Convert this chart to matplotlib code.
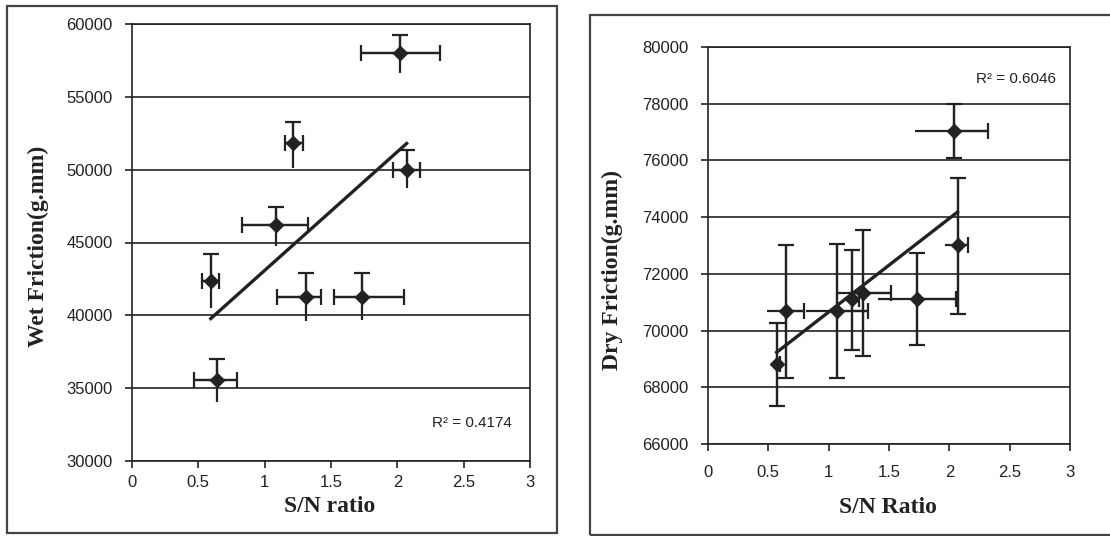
import numpy as np
import matplotlib
matplotlib.use("Agg")
import matplotlib.pyplot as plt
from matplotlib.patches import Rectangle

# wet friction vs S/N ratio
sn_wet = [0.594, 0.64, 1.085, 1.21, 1.31, 1.733, 2.02, 2.07]
wet = [42350, 35560, 46170, 51800, 41250, 41250, 58000, 49970]
wet_xlo = [0.064, 0.17, 0.255, 0.06, 0.22, 0.21, 0.295, 0.10]
wet_xhi = [0.061, 0.15, 0.245, 0.08, 0.115, 0.315, 0.30, 0.10]
wet_ylo = [1830, 1530, 1400, 1670, 1640, 1550, 1350, 1240]
wet_yhi = [1880, 1450, 1240, 1450, 1640, 1640, 1270, 1380]
wet_r2 = "R\u00b2 = 0.4174"

# dry friction vs S/N ratio
sn_dry = [0.569, 0.646, 1.071, 1.19, 1.287, 1.734, 2.035, 2.068]
dry = [68830, 70700, 70700, 71100, 71330, 71100, 77040, 73020]
dry_xlo = [0.03, 0.16, 0.257, 0.064, 0.207, 0.324, 0.32, 0.10]
dry_xhi = [0.03, 0.152, 0.257, 0.064, 0.227, 0.321, 0.285, 0.09]
dry_ylo = [1480, 2370, 2370, 1780, 2240, 1600, 965, 2450]
dry_yhi = [1450, 2300, 2360, 1730, 2200, 1620, 940, 2360]
dry_r2 = "R\u00b2 = 0.6046"

xticks = [0, 0.5, 1, 1.5, 2, 2.5, 3]
xticklabels = ["0", "0.5", "1", "1.5", "2", "2.5", "3"]

INK = "#222222"
plt.rcParams['font.family'] = ['Liberation Sans', 'DejaVu Sans']


def panel(ax, x, y, xlo, xhi, ylo, yhi, yticks, xcaps_both, ycaps_both):
    x = np.array(x); y = np.array(y)
    z = np.zeros(len(x))
    # bare error lines
    ax.errorbar(x, y, xerr=[xlo, xhi], yerr=[ylo, yhi], fmt='none',
                ecolor=INK, elinewidth=1.6, capsize=0, zorder=3)
    # caps, Excel style (some directions only)
    ax.errorbar(x, y, xerr=[xlo if xcaps_both else z, xhi], fmt='none',
                ecolor=INK, elinewidth=1.6, capsize=5.5, capthick=1.6, zorder=3)
    ax.errorbar(x, y, yerr=[ylo if ycaps_both else z, yhi], fmt='none',
                ecolor=INK, elinewidth=1.6, capsize=5.5, capthick=1.6, zorder=3)
    ax.plot(x, y, 'D', color=INK, markersize=7, zorder=4)
    # linear trendline
    k, b = np.polyfit(x, y, 1)
    xx = np.array([x.min(), x.max()])
    ax.plot(xx, k * xx + b, '-', color=INK, lw=2.4, zorder=3)

    ax.set_xlim(0, 3)
    ax.set_ylim(yticks[0], yticks[-1])
    ax.set_xticks(xticks)
    ax.set_xticklabels(xticklabels)
    ax.set_yticks(yticks)
    ax.grid(True, axis='y', color=INK, lw=1.2)
    ax.set_axisbelow(True)
    for s in ax.spines.values():
        s.set_color(INK)
        s.set_linewidth(1.2)
    ax.tick_params(direction='out', length=5, width=1.2, color=INK,
                   labelsize=12, labelcolor=INK)


fig = plt.figure(figsize=(11.1, 5.36), dpi=100)

ax1 = fig.add_axes([132 / 1110, 1 - 461 / 536, 398 / 1110, 437 / 536])
panel(ax1, sn_wet, wet, wet_xlo, wet_xhi, wet_ylo, wet_yhi,
      list(range(30000, 60001, 5000)), True, False)
ax1.tick_params(axis='y', pad=9)
ax1.tick_params(axis='x', pad=5)
ax1.text(0.855, 0.087, wet_r2, transform=ax1.transAxes, ha='center', va='center',
         fontsize=11, color=INK)
ax1.text(0.497, -0.105, "S/N ratio", transform=ax1.transAxes, ha='center', va='center',
         fontsize=17, fontweight='bold', family='Liberation Serif', color=INK)
ax1.text(-0.236, 0.492, "Wet Friction(g.mm)", transform=ax1.transAxes, ha='center',
         va='center', rotation=90, fontsize=17, fontweight='bold',
         family='Liberation Serif', color=INK)

ax2 = fig.add_axes([708 / 1110, 1 - 444 / 536, 362 / 1110, 397 / 536])
panel(ax2, sn_dry, dry, dry_xlo, dry_xhi, dry_ylo, dry_yhi,
      list(range(66000, 80001, 2000)), False, True)
ax2.tick_params(axis='y', pad=9)
ax2.tick_params(axis='x', pad=10)
ax2.text(0.851, 0.919, dry_r2, transform=ax2.transAxes, ha='center', va='center',
         fontsize=11, color=INK)
ax2.text(0.497, -0.159, "S/N Ratio", transform=ax2.transAxes, ha='center', va='center',
         fontsize=17, fontweight='bold', family='Liberation Serif', color=INK)
ax2.text(-0.265, 0.438, "Dry Friction(g.mm)", transform=ax2.transAxes, ha='center',
         va='center', rotation=90, fontsize=17, fontweight='bold',
         family='Liberation Serif', color=INK)

# outer frames around each chart
fig.add_artist(Rectangle((7 / 1110, 1 - 533 / 536), 550 / 1110, 527 / 536,
                         transform=fig.transFigure, fill=False, ec="#444444", lw=1.6))
fig.add_artist(Rectangle((590 / 1110, 1 - 535 / 536), 530 / 1110, 520 / 536,
                         transform=fig.transFigure, fill=False, ec="#444444", lw=1.6))

fig.savefig("out.png", dpi=100)
